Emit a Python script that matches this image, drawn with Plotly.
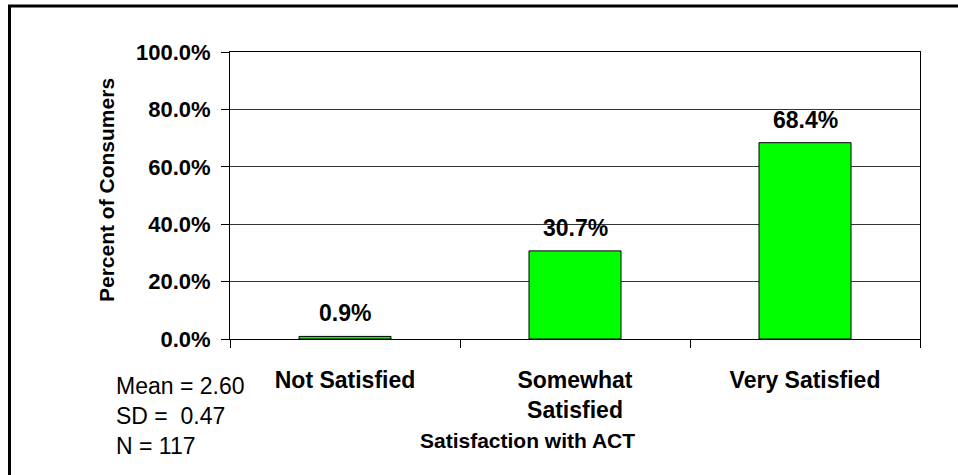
import plotly.graph_objects as go

categories = ["Not Satisfied", "Somewhat<br>Satisfied", "Very Satisfied"]
values = [0.9, 30.7, 68.4]
value_labels = ["0.9%", "30.7%", "68.4%"]
y_ticks = [0, 20, 40, 60, 80, 100]
y_tick_labels = ["0.0%", "20.0%", "40.0%", "60.0%", "80.0%", "100.0%"]
stats_lines = ["Mean = 2.60", "SD = \u00a00.47", "N = 117"]

W, H = 958, 475
L, R, T, B = 230, 38, 52, 136
pw, ph = W - L - R, H - T - B

def px_x(px):
    return (px - L) / pw

def px_y(py):
    return (H - B - py) / ph

FONT = "Liberation Sans, Arial, sans-serif"

fig = go.Figure()
fig.add_trace(go.Bar(
    x=categories, y=values, width=0.4,
    marker=dict(color="#00FF00", line=dict(color="#000000", width=1)),
    hoverinfo="skip",
))

for c, v, t in zip(categories, values, value_labels):
    fig.add_annotation(x=c, y=v, text="<b>%s</b>" % t, showarrow=False,
                       xanchor="center", yanchor="bottom", yshift=8,
                       font=dict(family=FONT, size=23, color="#000"))

fig.add_annotation(x=px_x(106), y=px_y(190), xref="paper", yref="paper",
                   xanchor="center", yanchor="middle",
                   text="<b>Percent of Consumers</b>", textangle=-90,
                   showarrow=False, font=dict(family=FONT, size=21, color="#000"))
fig.add_annotation(x=px_x(527), y=px_y(440), xref="paper", yref="paper",
                   xanchor="center", yanchor="middle",
                   text="<b>Satisfaction with ACT</b>",
                   showarrow=False, font=dict(family=FONT, size=21, color="#000"))
fig.add_annotation(x=px_x(114), y=px_y(416), xref="paper", yref="paper",
                   xanchor="left", yanchor="middle", align="left",
                   text="<br>".join(stats_lines),
                   showarrow=False, font=dict(family=FONT, size=23, color="#000"))

fig.add_shape(type="rect", xref="paper", yref="paper",
              x0=px_x(9.5), x1=px_x(990), y0=px_y(500), y1=px_y(6),
              line=dict(color="#000", width=3), fillcolor="rgba(0,0,0,0)")

fig.update_layout(
    width=W, height=H,
    margin=dict(l=L, r=R, t=T, b=B, pad=0),
    paper_bgcolor="white", plot_bgcolor="white",
    showlegend=False, bargap=0.6,
    font=dict(family=FONT, color="#000"),
)
fig.update_xaxes(
    type="category", showline=True, linecolor="#000", linewidth=1, mirror=True,
    ticks="outside", tickson="boundaries", ticklen=8, tickcolor="#000",
    ticklabelstandoff=20,
    tickfont=dict(family=FONT, size=23, color="#000", weight="bold"),
    showgrid=False,
)
fig.update_yaxes(
    range=[0, 100], tickvals=y_ticks, ticktext=y_tick_labels,
    showline=True, linecolor="#000", linewidth=1, mirror=True,
    ticks="outside", ticklen=8, tickcolor="#000", ticklabelstandoff=6,
    tickfont=dict(family=FONT, size=22, color="#000", weight="bold"),
    showgrid=True, gridcolor="#333", gridwidth=1, zeroline=False,
)

fig.write_html("out.html")
